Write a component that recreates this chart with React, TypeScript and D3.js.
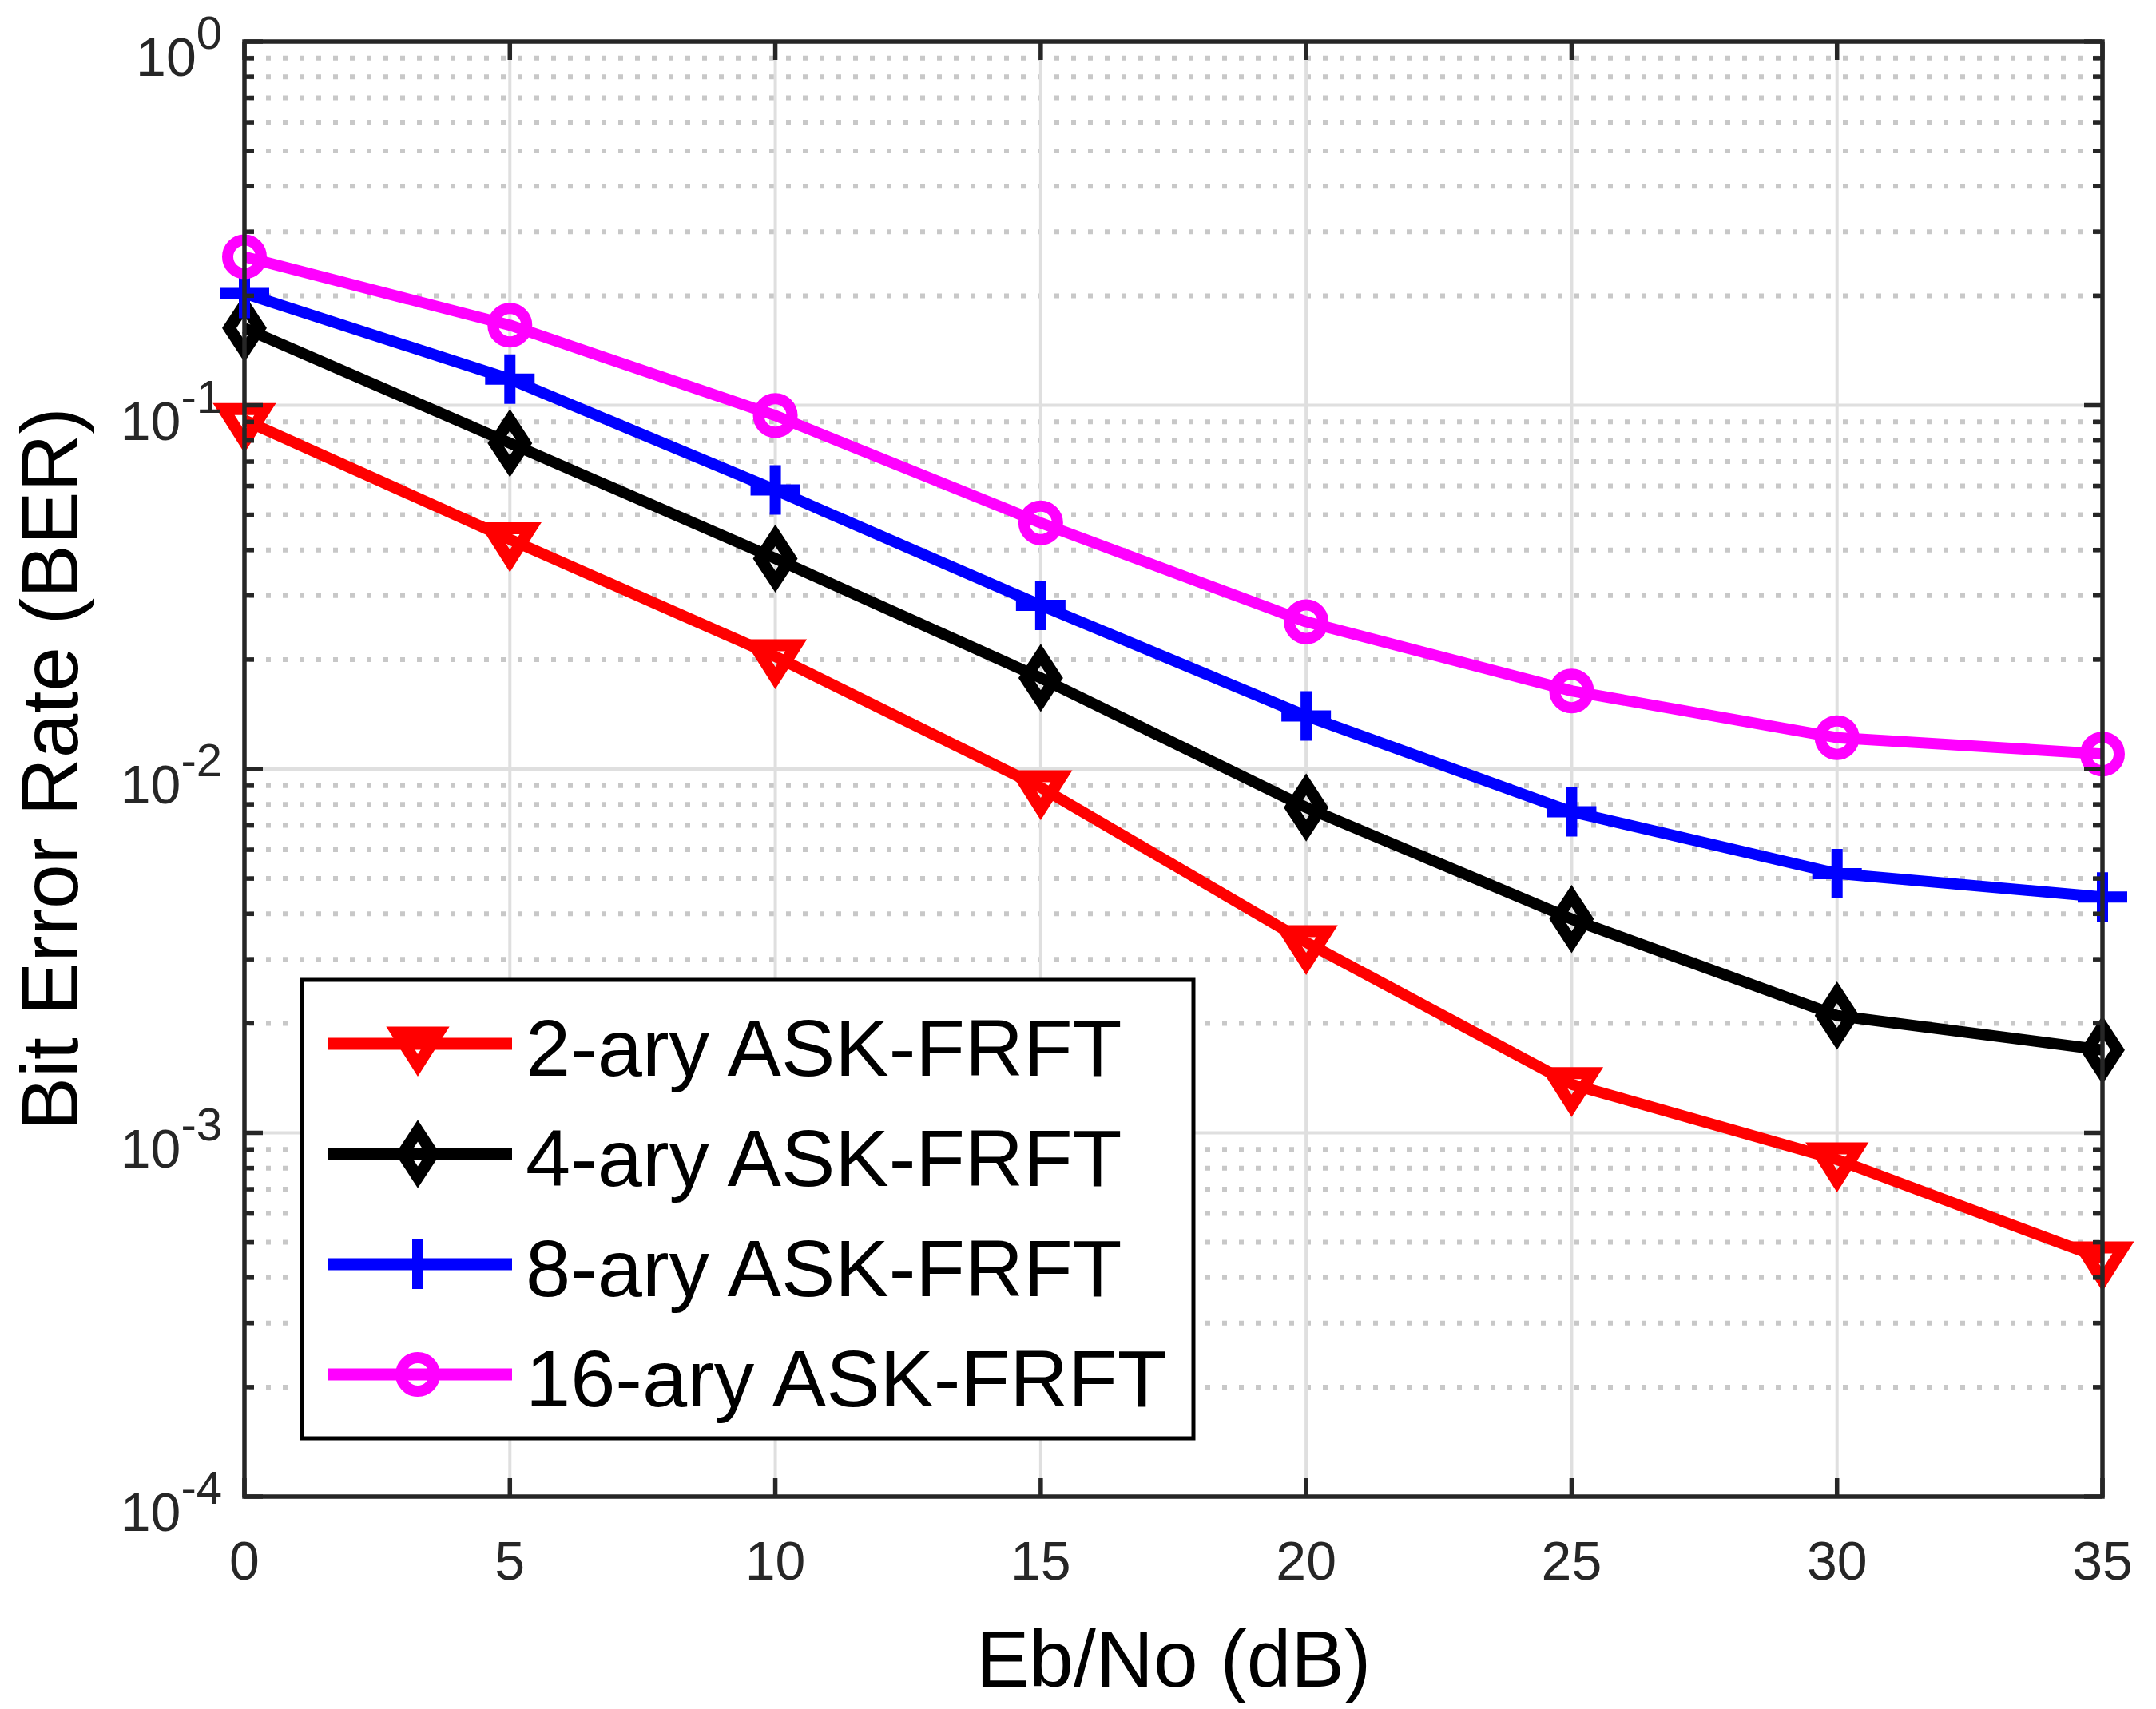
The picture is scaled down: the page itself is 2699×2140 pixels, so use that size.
import React from 'react';
import * as d3 from 'd3';

// Eb/No points (dB)
const ebno = [0, 5, 10, 15, 20, 25, 30, 35];

// BER
const ber2 = [0.091, 0.0428, 0.0204, 0.0089, 0.00334, 0.00136, 0.000844, 0.000451];
const ber4 = [0.163, 0.0787, 0.0379, 0.0178, 0.00784, 0.00387, 0.0021, 0.00169];
const ber8 = [0.203, 0.118, 0.0585, 0.0282, 0.014, 0.00763, 0.00516, 0.00445];
const ber16 = [0.256, 0.166, 0.0937, 0.0475, 0.0254, 0.0164, 0.0122, 0.011];

const seriesNames = ['2-ary ASK-FRFT', '4-ary ASK-FRFT', '8-ary ASK-FRFT', '16-ary ASK-FRFT'];
const seriesColors = ['#ff0000', '#000000', '#0000ff', '#ff00ff'];
const seriesMarkers = ['triangleDown', 'diamond', 'plus', 'circle'];

const xTicks = [0, 5, 10, 15, 20, 25, 30, 35];
const yDecades = [-4, -3, -2, -1, 0];

const W = 2699;
const H = 2140;
const margin = { left: 306, right: W - 2632, top: 52, bottom: H - 1874 };

const axisColor = '#262626';
const font = '"Liberation Sans", Arial, Helvetica, sans-serif';

const markerPath = (kind: string) => {
    switch (kind) {
        case 'triangleDown':
            return 'M-26,-14L26,-14L0,27Z';
        case 'diamond':
            return 'M0,-29L19,0L0,29L-19,0Z';
        case 'plus':
            return 'M-31,0L31,0M0,-31L0,31';
        default:
            return '';
    }
};

const Marker = ({ kind, x, y, color }: { kind: string; x: number; y: number; color: string }) => {
    if (kind === 'circle') {
        return <circle cx={x} cy={y} r={21} fill="none" stroke={color} strokeWidth={14} />;
    }
    return (
        <path
            d={markerPath(kind)}
            transform={`translate(${x},${y})`}
            fill="none"
            stroke={color}
            strokeWidth={kind === 'plus' ? 14 : 15}
            strokeLinejoin="miter"
            strokeMiterlimit={10}
        />
    );
};

const App = () => {
    const x = d3.scaleLinear().domain([0, 35]).range([margin.left, W - margin.right]);
    const y = d3.scaleLog().domain([1e-4, 1]).range([H - margin.bottom, margin.top]);

    const allSeries = [ber2, ber4, ber8, ber16];
    const line = d3
        .line<number>()
        .x((_, i) => x(ebno[i]))
        .y((d) => y(d));

    const x0 = x(0);
    const x1 = x(35);
    const yTop = y(1);
    const yBot = y(1e-4);

    const minorValues: number[] = [];
    yDecades.slice(0, -1).forEach((p) => {
        for (let k = 2; k <= 9; k++) minorValues.push(k * Math.pow(10, p));
    });

    const legend = { x: 378, y: 1227, w: 1116, h: 574, rowY: 1307, rowGap: 138 };

    return (
        <svg
            width={W}
            height={H}
            style={{ position: 'absolute', left: 0, top: 0, background: '#fff' }}
            fontFamily={font}
        >
            <rect x={0} y={0} width={W} height={H} fill="#fff" />

            {/* minor grid */}
            <g stroke="#c8c8c8" strokeWidth={6} strokeDasharray="6 15">
                {minorValues.map((v) => (
                    <line key={v} x1={x0 + 6} x2={x1} y1={y(v)} y2={y(v)} />
                ))}
            </g>

            {/* major grid */}
            <g stroke="#dfdfdf" strokeWidth={4}>
                {xTicks.map((t) => (
                    <line key={'gx' + t} x1={x(t)} x2={x(t)} y1={yTop} y2={yBot} />
                ))}
                {yDecades.map((p) => (
                    <line key={'gy' + p} x1={x0} x2={x1} y1={y(Math.pow(10, p))} y2={y(Math.pow(10, p))} />
                ))}
            </g>

            {/* data */}
            {allSeries.map((s, si) => (
                <g key={seriesNames[si]}>
                    <path d={line(s) || ''} fill="none" stroke={seriesColors[si]} strokeWidth={14} strokeLinejoin="round" />
                    {s.map((v, i) => (
                        <Marker key={i} kind={seriesMarkers[si]} x={x(ebno[i])} y={y(v)} color={seriesColors[si]} />
                    ))}
                </g>
            ))}

            {/* axes box and ticks */}
            <g stroke={axisColor} strokeWidth={5.5} fill="none">
                <rect x={x0} y={yTop} width={x1 - x0} height={yBot - yTop} />
                {xTicks.map((t) => (
                    <g key={'tx' + t}>
                        <line x1={x(t)} x2={x(t)} y1={yBot} y2={yBot - 23} />
                        <line x1={x(t)} x2={x(t)} y1={yTop} y2={yTop + 23} />
                    </g>
                ))}
                {yDecades.map((p) => (
                    <g key={'ty' + p}>
                        <line x1={x0} x2={x0 + 23} y1={y(Math.pow(10, p))} y2={y(Math.pow(10, p))} />
                        <line x1={x1} x2={x1 - 23} y1={y(Math.pow(10, p))} y2={y(Math.pow(10, p))} />
                    </g>
                ))}
                {minorValues.map((v) => (
                    <g key={'tm' + v}>
                        <line x1={x0} x2={x0 + 12} y1={y(v)} y2={y(v)} />
                        <line x1={x1} x2={x1 - 12} y1={y(v)} y2={y(v)} />
                    </g>
                ))}
            </g>

            {/* x tick labels */}
            <g fill={axisColor} fontSize={68} textAnchor="middle">
                {xTicks.map((t) => (
                    <text key={'lx' + t} x={x(t)} y={1978}>
                        {t}
                    </text>
                ))}
            </g>

            {/* y tick labels */}
            <g fill={axisColor} fontSize={68} textAnchor="end">
                {yDecades.map((p) => (
                    <text key={'ly' + p} x={278} y={y(Math.pow(10, p)) + 43}>
                        10
                        <tspan fontSize={58} dy={-34}>
                            {p === 0 ? '0' : `-${Math.abs(p)}`}
                        </tspan>
                    </text>
                ))}
            </g>

            {/* axis labels */}
            <text x={(x0 + x1) / 2} y={2112} fontSize={100} textAnchor="middle" fill="#000">
                Eb/No (dB)
            </text>
            <text
                transform={`translate(97,${(yTop + yBot) / 2}) rotate(-90)`}
                fontSize={100}
                textAnchor="middle"
                fill="#000"
            >
                Bit Error Rate (BER)
            </text>

            {/* legend */}
            <g>
                <rect x={legend.x} y={legend.y} width={legend.w} height={legend.h} fill="#fff" stroke="#000" strokeWidth={5} />
                {seriesNames.map((name, i) => {
                    const ry = legend.rowY + i * legend.rowGap;
                    return (
                        <g key={'lg' + name}>
                            <line x1={411} x2={641} y1={ry} y2={ry} stroke={seriesColors[i]} strokeWidth={15} />
                            <Marker kind={seriesMarkers[i]} x={523} y={ry} color={seriesColors[i]} />
                            <text x={658} y={ry + 40} fontSize={101} fill="#000">
                                {name}
                            </text>
                        </g>
                    );
                })}
            </g>
        </svg>
    );
};

export default App;
